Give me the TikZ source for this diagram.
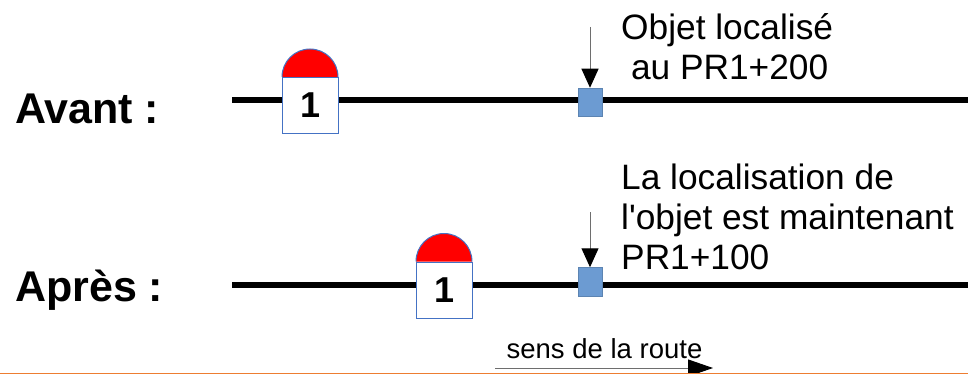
\documentclass[tikz,border=0pt]{standalone}
\usepackage{fontspec}
\setmainfont{Liberation Sans}
\usetikzlibrary{arrows.meta}
\definecolor{contour}{RGB}{68,114,196}
\definecolor{objetbleu}{RGB}{108,155,210}
\definecolor{gristrait}{RGB}{110,110,110}
\definecolor{bordure}{RGB}{237,125,49}
\tikzset{
	titre/.style={font=\fontsize{43}{43}\selectfont\bfseries,anchor=west,inner sep=0pt},
	legende/.style={font=\fontsize{35.3}{40}\selectfont,align=left,anchor=west,inner sep=0pt},
	route/.style={line width=5.5pt},
	pk/.style={draw=contour,line width=1pt,fill=white,minimum width=56pt,minimum height=56pt,inner sep=0pt,font=\fontsize{36}{36}\selectfont\bfseries},
	objet/.style={draw=objetbleu!85!black,line width=1pt,fill=objetbleu,minimum width=24pt,minimum height=28.5pt,inner sep=0pt},
	fleche/.style={draw=gristrait,line width=1pt,-{Triangle[length=19pt,width=17pt,fill=black,color=black]}}
}
\begin{document}
\begin{tikzpicture}[x=1pt,y=-1pt]
	\useasboundingbox (0,0) rectangle (968,374);
	% ligne du haut
	\coordinate (r1a) at (232,100);
	\coordinate (r1b) at (968,100);
	\draw[route] (r1a) -- (r1b);
	\node[titre] (avant) at (15,108.5) {Avant :};
	\node[pk] (pk1) at (310.5,105.5) {1};
	\fill[red] (pk1.north west) arc[start angle=180,end angle=0,radius=28pt];
	\draw[contour,line width=1pt] (pk1.north west) arc[start angle=180,end angle=0,radius=28pt];
	\node[objet] (obj1) at (590,102.5) {};
	\coordinate (f1) at (590,27);
	\draw[fleche] (f1) -- (obj1.north);
	\node[legende] (txt1) at (621,47) {Objet localisé\\\ au PR1+200};
	% ligne du bas
	\coordinate (r2a) at (232,285);
	\coordinate (r2b) at (968,285);
	\draw[route] (r2a) -- (r2b);
	\node[titre] (apres) at (15,290.5) {Après :};
	\node[pk] (pk2) at (444.5,290) {1};
	\fill[red] (pk2.north west) arc[start angle=180,end angle=0,radius=28pt];
	\draw[contour,line width=1pt] (pk2.north west) arc[start angle=180,end angle=0,radius=28pt];
	\node[objet] (obj2) at (590,282) {};
	\coordinate (f2) at (590,212);
	\draw[fleche] (f2) -- (obj2.north);
	\node[legende] (txt2) at (621,217) {La localisation de\\l\textquotesingle objet est maintenant\\PR1+100};
	% sens
	\coordinate (s1) at (495,368);
	\coordinate (s2) at (713,368);
	\draw[gristrait,line width=1pt,-{Triangle[length=25pt,width=17pt,color=black,fill=black]}] (s1) -- (s2);
	\node[font=\fontsize{27.5}{27.5}\selectfont,inner sep=0pt] (sens) at (604.5,348.5) {sens de la route};
	\coordinate (b1) at (0,373.5);
	\coordinate (b2) at (968,373.5);
	\draw[bordure,line width=1pt] (b1) -- (b2);
\end{tikzpicture}
\end{document}
